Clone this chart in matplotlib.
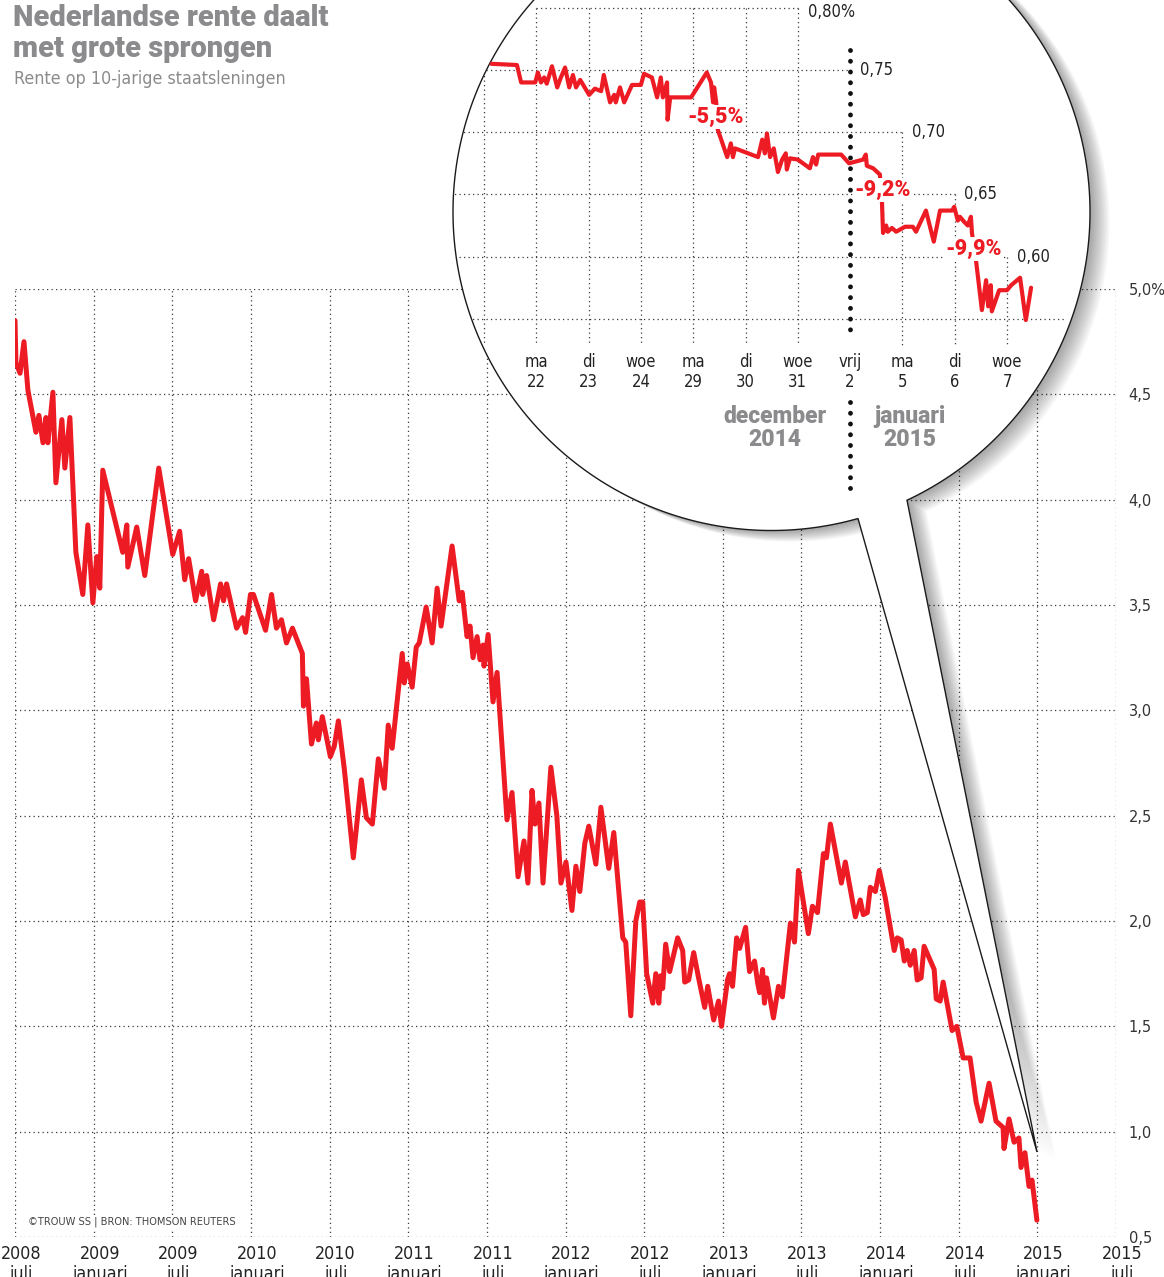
import os
import numpy as np
import matplotlib
matplotlib.use("Agg")
import matplotlib.pyplot as plt
from matplotlib import font_manager as fm
from matplotlib.patches import Polygon
from matplotlib.transforms import ScaledTranslation

# 10-jarige Nederlandse staatsrente (%), x in decimale jaren
years = [
    2008.500, 2008.506, 2008.532, 2008.557, 2008.582, 2008.633, 2008.652, 2008.678, 2008.697, 2008.709,
    2008.741, 2008.760, 2008.798, 2008.817, 2008.849, 2008.887, 2008.931, 2008.963, 2008.995, 2009.020,
    2009.039, 2009.058, 2009.185, 2009.211, 2009.217, 2009.274, 2009.325, 2009.414, 2009.503, 2009.547,
    2009.579, 2009.604, 2009.648, 2009.687, 2009.693, 2009.718, 2009.763, 2009.807, 2009.826, 2009.845,
    2009.909, 2009.947, 2009.966, 2009.997, 2010.016, 2010.093, 2010.131, 2010.162, 2010.194, 2010.226,
    2010.264, 2010.327, 2010.334, 2010.353, 2010.385, 2010.416, 2010.429, 2010.454, 2010.505, 2010.530,
    2010.556, 2010.594, 2010.651, 2010.702, 2010.734, 2010.772, 2010.810, 2010.848, 2010.873, 2010.898,
    2010.962, 2010.975, 2010.994, 2011.025, 2011.051, 2011.070, 2011.114, 2011.152, 2011.184, 2011.209,
    2011.279, 2011.324, 2011.343, 2011.374, 2011.393, 2011.412, 2011.438, 2011.457, 2011.476, 2011.482,
    2011.508, 2011.539, 2011.565, 2011.628, 2011.660, 2011.698, 2011.736, 2011.761, 2011.787, 2011.806,
    2011.831, 2011.857, 2011.907, 2011.945, 2011.971, 2012.003, 2012.041, 2012.066, 2012.091, 2012.123,
    2012.148, 2012.193, 2012.225, 2012.275, 2012.307, 2012.364, 2012.383, 2012.415, 2012.447, 2012.472,
    2012.491, 2012.516, 2012.555, 2012.574, 2012.593, 2012.605, 2012.618, 2012.637, 2012.662, 2012.713,
    2012.745, 2012.758, 2012.783, 2012.815, 2012.846, 2012.885, 2012.904, 2012.942, 2012.973, 2012.992,
    2013.030, 2013.043, 2013.062, 2013.088, 2013.107, 2013.145, 2013.170, 2013.202, 2013.221, 2013.234,
    2013.253, 2013.265, 2013.278, 2013.322, 2013.354, 2013.379, 2013.430, 2013.456, 2013.481, 2013.544,
    2013.570, 2013.602, 2013.640, 2013.659, 2013.684, 2013.754, 2013.779, 2013.843, 2013.874, 2013.893,
    2013.919, 2013.938, 2013.970, 2013.995, 2014.033, 2014.090, 2014.109, 2014.134, 2014.154, 2014.173,
    2014.192, 2014.217, 2014.236, 2014.261, 2014.280, 2014.344, 2014.357, 2014.382, 2014.401, 2014.458,
    2014.488, 2014.528, 2014.572, 2014.611, 2014.642, 2014.693, 2014.737, 2014.782, 2014.788, 2014.820,
    2014.852, 2014.883, 2014.896, 2014.921, 2014.947, 2014.966, 2014.997,
]
rates = [
    4.85, 4.65, 4.60, 4.75, 4.52, 4.32, 4.40, 4.27, 4.39, 4.27,
    4.51, 4.08, 4.38, 4.15, 4.39, 3.75, 3.55, 3.88, 3.51, 3.73,
    3.58, 4.14, 3.75, 3.88, 3.68, 3.87, 3.64, 4.15, 3.74, 3.85,
    3.62, 3.72, 3.52, 3.66, 3.55, 3.64, 3.43, 3.60, 3.52, 3.60,
    3.39, 3.44, 3.37, 3.55, 3.55, 3.38, 3.55, 3.39, 3.43, 3.32,
    3.39, 3.27, 3.02, 3.15, 2.84, 2.94, 2.86, 2.97, 2.78, 2.83,
    2.95, 2.72, 2.30, 2.67, 2.49, 2.46, 2.77, 2.63, 2.93, 2.82,
    3.27, 3.13, 3.22, 3.11, 3.30, 3.32, 3.49, 3.32, 3.58, 3.40,
    3.78, 3.52, 3.56, 3.35, 3.40, 3.25, 3.35, 3.24, 3.31, 3.21,
    3.36, 3.04, 3.18, 2.48, 2.61, 2.21, 2.38, 2.18, 2.62, 2.46,
    2.56, 2.18, 2.73, 2.50, 2.18, 2.28, 2.05, 2.26, 2.14, 2.37,
    2.45, 2.27, 2.54, 2.25, 2.42, 1.92, 1.90, 1.55, 2.00, 2.09,
    2.09, 1.75, 1.61, 1.75, 1.61, 1.74, 1.68, 1.89, 1.76, 1.92,
    1.86, 1.71, 1.72, 1.85, 1.73, 1.59, 1.69, 1.53, 1.62, 1.50,
    1.72, 1.75, 1.69, 1.92, 1.87, 1.97, 1.76, 1.81, 1.71, 1.66,
    1.77, 1.61, 1.73, 1.54, 1.69, 1.64, 1.99, 1.90, 2.24, 1.94,
    2.07, 2.04, 2.32, 2.30, 2.46, 2.18, 2.28, 2.02, 2.10, 2.03,
    2.04, 2.16, 2.14, 2.24, 2.11, 1.86, 1.92, 1.91, 1.81, 1.86,
    1.79, 1.86, 1.72, 1.73, 1.88, 1.77, 1.63, 1.62, 1.71, 1.48,
    1.50, 1.35, 1.35, 1.14, 1.05, 1.23, 1.05, 1.02, 0.92, 1.06,
    0.95, 0.97, 0.83, 0.90, 0.74, 0.77, 0.58,
]

x_ticks = [2008.5 + 0.5 * i for i in range(15)]
x_labels = ["2008\njuli", "2009\njanuari", "2009\njuli", "2010\njanuari", "2010\njuli",
            "2011\njanuari", "2011\njuli", "2012\njanuari", "2012\njuli", "2013\njanuari",
            "2013\njuli", "2014\njanuari", "2014\njuli", "2015\njanuari", "2015\njuli"]
y_ticks = [0.5, 1.0, 1.5, 2.0, 2.5, 3.0, 3.5, 4.0, 4.5, 5.0]
y_labels = ["0,5", "1,0", "1,5", "2,0", "2,5", "3,0", "3,5", "4,0", "4,5", "5,0%"]

# uitvergroting: 19 dec 2014 - 7 jan 2015, x in handelsdagen (0 = vrij 19 dec)
zoom_t = [
    0.14, 0.63, 0.71, 0.98, 1.03, 1.09, 1.15, 1.20, 1.30, 1.40,
    1.47, 1.55, 1.63, 1.70, 1.76, 1.84, 2.01, 2.12, 2.24, 2.29,
    2.41, 2.49, 2.52, 2.60, 2.68, 2.83, 3.00, 3.06, 3.21, 3.31,
    3.38, 3.42, 3.50, 3.51, 3.56, 3.96, 4.26, 4.34, 4.38, 4.40,
    4.44, 4.47, 4.65, 4.72, 4.76, 4.80, 5.24, 5.32, 5.37, 5.41,
    5.47, 5.54, 5.62, 5.70, 5.77, 5.79, 5.85, 6.00, 6.23, 6.29,
    6.35, 6.39, 6.83, 6.98, 7.25, 7.30, 7.32, 7.38, 7.44, 7.57,
    7.61, 7.63, 7.69, 7.72, 7.80, 7.88, 8.05, 8.20, 8.26, 8.45,
    8.60, 8.72, 8.95, 8.99, 9.06, 9.10, 9.18, 9.25, 9.31, 9.33,
    9.41, 9.52, 9.60, 9.64, 9.69, 9.71, 9.85, 10.00, 10.08, 10.25,
    10.36, 10.46,
]
zoom_rate = [
    0.755, 0.754, 0.740, 0.740, 0.748, 0.740, 0.744, 0.739, 0.753, 0.736,
    0.744, 0.752, 0.736, 0.746, 0.736, 0.742, 0.730, 0.735, 0.733, 0.746,
    0.724, 0.730, 0.724, 0.736, 0.724, 0.738, 0.738, 0.747, 0.744, 0.728,
    0.744, 0.728, 0.740, 0.710, 0.728, 0.728, 0.748, 0.740, 0.724, 0.736,
    0.724, 0.702, 0.680, 0.691, 0.680, 0.687, 0.680, 0.694, 0.683, 0.699,
    0.680, 0.687, 0.668, 0.678, 0.683, 0.670, 0.679, 0.678, 0.671, 0.680,
    0.674, 0.682, 0.682, 0.675, 0.678, 0.682, 0.673, 0.672, 0.671, 0.666,
    0.643, 0.619, 0.625, 0.620, 0.623, 0.620, 0.624, 0.624, 0.620, 0.637,
    0.612, 0.637, 0.637, 0.640, 0.629, 0.632, 0.628, 0.625, 0.632, 0.619,
    0.596, 0.557, 0.581, 0.560, 0.577, 0.556, 0.573, 0.573, 0.577, 0.583,
    0.549, 0.575,
]
day_names = ["ma", "di", "woe", "ma", "di", "woe", "vrij", "ma", "di", "woe"]
day_nums = ["22", "23", "24", "29", "30", "31", "2", "5", "6", "7"]
zoom_levels = [0.80, 0.75, 0.70, 0.65, 0.60]
zoom_level_labels = ["0,80%", "0,75", "0,70", "0,65", "0,60"]
drop_labels = ["-5,5%", "-9,2%", "-9,9%"]

RED = "#ed1c24"
GREY = "#8b8b8d"
GRID = "#3a3a3a"
HEAVY = ["Roboto", "DejaVu Sans"]


def find_narrow():
    files = sorted({f.fname for f in fm.fontManager.ttflist})
    keys = ["liberationsansnarrow-regular", "dejavusanscondensed.", "robotocondensed-regular",
            "opensanscondensed-regular", "opensans-condensed"]
    for key in keys:
        for fn in files:
            base = os.path.basename(fn).lower().replace(" ", "").replace("_", "")
            if key in base:
                return fn
    return None


NARROW_FILE = find_narrow()
# schaal voor als er geen smalle letter is
NSCALE = 1.0 if NARROW_FILE and "narrow" in NARROW_FILE.lower() else 0.88


def nfont(size):
    if NARROW_FILE:
        return fm.FontProperties(fname=NARROW_FILE, size=size * NSCALE)
    return fm.FontProperties(family="DejaVu Sans", size=size * 0.8)


W, H = 1164, 1277


def fx(px):
    return px / W


def fy(py):
    return 1 - py / H


fig = plt.figure(figsize=(W / 100, H / 100), dpi=100)

# ---- hoofdgrafiek
ax = fig.add_axes([fx(15), fy(1237), fx(1116) - fx(15), fy(289) - fy(1237)])
ax.plot(years, rates, color=RED, lw=3.6, solid_joinstyle="round", solid_capstyle="round")
ax.set_xlim(2008.5, 2015.5)
ax.set_ylim(0.5, 5.0)
ax.set_xticks(x_ticks, x_labels)
ax.set_yticks(y_ticks, y_labels)
ax.yaxis.tick_right()
for s in ax.spines.values():
    s.set_visible(False)
ax.set_axisbelow(True)
ax.grid(True, color=GRID, lw=0.9, ls=(0, (1, 2.6)))
ax.tick_params(axis="x", length=0, pad=6, labelcolor="#222222")
ax.tick_params(axis="y", length=0, pad=9, labelsize=10.5, labelcolor="#333333")
shift = ScaledTranslation(6 / 100, 0, fig.dpi_scale_trans)
for lab in ax.get_xticklabels():
    lab.set_fontproperties(nfont(14.5))
    lab.set_linespacing(1.15)
    lab.set_transform(lab.get_transform() + shift)

fig.text(fx(28), fy(1222), "\u00a9TROUW SS | BRON: THOMSON REUTERS", fontproperties=nfont(9),
         color="#444444", va="center",
         bbox=dict(facecolor="white", edgecolor="none", pad=1))

fig.text(fx(13), fy(4), "Nederlandse rente daalt\nmet grote sprongen", ha="left", va="top",
         fontsize=21, fontweight="black", family=HEAVY, color=GREY, linespacing=1.12)
fig.text(fx(14), fy(84), "Rente op 10-jarige staatsleningen", ha="left", va="baseline",
         fontproperties=nfont(14.5), color=GREY)

# ---- ballon (cirkel + staart), in beeldpixels
CX, CY, R = 771.5, 212.0, 318.5
a_left = np.arccos((858 - CX) / R)
a_right = np.arccos((907 - CX) / R)
ang = np.linspace(a_right, a_left - 2 * np.pi, 600)
bx = np.append(CX + R * np.cos(ang), 1037)
by = np.append(CY + R * np.sin(ang), 1152)


def to_fig(xs, ys):
    return np.column_stack([fx(np.asarray(xs)), fy(np.asarray(ys))])


for k in range(1, 15):
    shadow = Polygon(to_fig(bx + 1.4 * k, by + 0.8 * k), closed=True, facecolor="black",
                     edgecolor="none", alpha=0.026, transform=fig.transFigure, zorder=4)
    fig.add_artist(shadow)
balloon = Polygon(to_fig(bx, by), closed=True, facecolor="white", edgecolor="#1a1a1a",
                  lw=1.0, transform=fig.transFigure, zorder=5)
fig.add_artist(balloon)

# ---- inzet
DAY_PX0, DAY_PX = 484.0, 52.3      # pixel x van dag 0, pixels per dag
LVL_PY, LVL_PX = 70.0, 1244.0      # pixel y van 0,75%, pixels per procentpunt


def t_of(px):
    return (px - DAY_PX0) / DAY_PX


def v_of(py):
    return 0.75 - (py - LVL_PY) / LVL_PX


ax_in = fig.add_axes([fx(CX - R), fy(CY + R), 2 * R / W, 2 * R / H], zorder=10)
ax_in.set_xlim(t_of(CX - R), t_of(CX + R))
ax_in.set_ylim(v_of(CY + R), v_of(CY - R))
ax_in.set_axis_off()

grid_kw = dict(color=GRID, lw=0.9, ls=(0, (1, 2.6)))
starts = [1, -1, -1, -1, -1]
ends = [6, 7, 8, 9, 10]
for lvl, t0, t1 in zip(zoom_levels, starts, ends):
    ln, = ax_in.plot([t0, t1], [lvl, lvl], **grid_kw)
    ln.set_clip_path(balloon)
ln, = ax_in.plot([-1, t_of(1064)], [0.55, 0.55], **grid_kw)
ln.set_clip_path(balloon)
tops = {8: 0.70, 9: 0.65, 10: 0.60}
for k in range(11):
    if k == 7:
        continue
    ln, = ax_in.plot([k, k], [tops.get(k, 0.80), v_of(345)], **grid_kw)
    ln.set_clip_path(balloon)

dot_kw = dict(color="#111111", lw=3.5, ls=(0, (0.01, 2.2)), dash_capstyle="round")
ax_in.plot([7, 7], [v_of(50), v_of(336)], **dot_kw)
ax_in.plot([7, 7], [v_of(402), v_of(490)], **dot_kw)

ln, = ax_in.plot(zoom_t, zoom_rate, color=RED, lw=3.0, solid_joinstyle="round",
                 solid_capstyle="round")
ln.set_clip_path(balloon)

for i, (lvl, k, lbl) in enumerate(zip(zoom_levels, ends, zoom_level_labels)):
    ax_in.annotate(lbl, (k, lvl), xytext=(7, -3 if i == 0 else 0), textcoords="offset points",
                   ha="left", va="center", fontproperties=nfont(13.5), color="#222222")

for k, (nm, num) in enumerate(zip(day_names, day_nums), start=1):
    ax_in.text(k, v_of(372), f"{nm}\n{num}", ha="center", va="center",
               fontproperties=nfont(13.5), color="#222222", linespacing=1.1)

ax_in.text(t_of(775), v_of(428), "december\n2014", ha="center", va="center", fontsize=16.5,
           fontweight="black", family=HEAVY, color=GREY, linespacing=1.0)
ax_in.text(t_of(910), v_of(428), "januari\n2015", ha="center", va="center", fontsize=16.5,
           fontweight="black", family=HEAVY, color=GREY, linespacing=1.0)

drop_pos = [(t_of(716), v_of(117)), (t_of(883), v_of(190)), (t_of(974), v_of(249))]
for lbl, (tx, ty) in zip(drop_labels, drop_pos):
    ax_in.text(tx, ty, lbl, ha="center", va="center", fontsize=15.5, fontweight="black",
               family=HEAVY, color=RED,
               bbox=dict(facecolor="white", edgecolor="none", pad=0.5))

fig.savefig("out.png", dpi=100)
